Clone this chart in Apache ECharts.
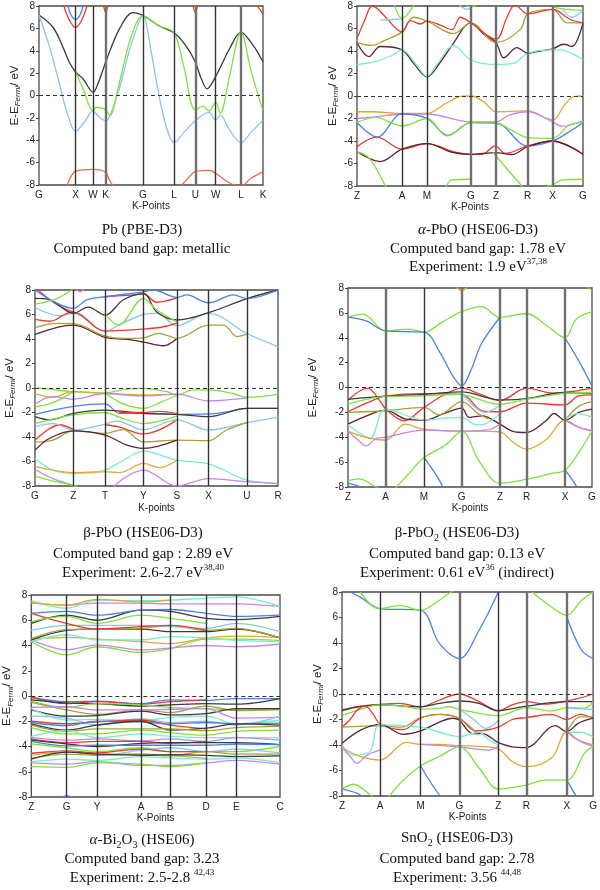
<!DOCTYPE html>
<html><head><meta charset="utf-8">
<script src="https://cdn.jsdelivr.net/npm/echarts@6/dist/echarts.min.js"></script>
<style>html,body{margin:0;padding:0;background:#fff}#c{width:600px;height:890px}</style>
</head><body><div id="c"></div>
<script>
// ---------------- DATA ----------------
const yMin = -8, yMax = 8, yStep = 2;

// Pb (PBE-D3)
const pbK = [0, 36.7, 54, 66.7, 104, 135, 156.3, 176.7, 202, 224];
const pbLabels = ['G','X','W','K','G','L','U','W','L','K'];
const pbBands = [
 ['k',[[0,7.2],[14,6.1],[24,4.3],[30.7,2.9],[36.7,2.1],[44,1.5],[54,0.3],[60,1.3],[66.7,3.0],[80.7,6.0],[94,7.4],[104,7.15],[120.7,6.2],[135,5.6],[147.3,4.4],[156.3,3.0],[162.3,1.5],[168,0.6],[176.7,1.7],[190.7,4.2],[202,5.65],[214,4.5],[224,3.0]]],
 ['lb',[[0,7.2],[10,4.5],[20,1.2],[28,-1.5],[36.7,-3.2],[46,-2.3],[54,-1.4],[60,-1.9],[66.7,-2.25],[70.7,-1.85],[80,0.5],[92,4.5],[104,7.1],[112,4.0],[120,0],[128,-3.0],[135,-4.2],[145,-3.3],[156.3,-2.25],[170,-1.5],[176.7,-2.2],[181.3,-1.75],[190,-3.0],[202,-4.2],[212,-3.3],[224,-2.2]]],
 ['g',[[36.7,2.1],[44,0.6],[54,-1.35],[57.3,-1.05],[62,-1.1],[66.7,-1.3],[70.7,-1.8],[80,1.0],[92,5.2],[104,7.1],[120.7,6.2],[135,5.6],[145,2.5],[156.3,-1.3],[164,-0.95],[170,-1.4],[176.7,-0.6],[181.3,-1.6],[190,1.5],[202,5.65],[212,2.2],[224,-1.35]]],
 ['b',[[28,8.3],[32,7.2],[36.7,6.8],[41,7.2],[45,8.3]]],
 ['r',[[24,8.3],[30,6.8],[36.7,6.1],[43,6.8],[49,8.3]]],
 ['r',[[64,8.3],[66.7,7.4],[69.3,8.3]]],
 ['r',[[153.6,8.3],[156.3,7.4],[159,8.3]]],
 ['r',[[216,8.3],[224,7.3]]],
 ['sa',[[27.3,-8.3],[31,-7.4],[36.7,-6.75],[54,-6.6],[66.7,-6.85],[70,-7.5],[76,-8.3]]],
 ['sa',[[140,-8.3],[150,-7.3],[156.3,-6.8],[170,-6.7],[176.7,-6.95],[190,-7.8],[202,-8.1],[212,-7.4],[224,-6.8]]]
];

// alpha-PbO (HSE06-D3)
const apK = [0, 45, 70, 114, 139, 170.7, 195.7, 226];
const apLabels = ['Z','A','M','G','Z','R','X','G'];
const apBands = [
 ['br',[[0,4.75],[11.7,3.5],[23.3,4.4],[45,4.1],[56.7,2.9],[70,1.7],[83.3,3.0],[95,4.5],[114,6.5],[126.7,5.5],[139,4.75],[146.7,3.4],[160,4.3],[170.7,3.8],[183.3,4.0],[195.7,4.2],[206.7,4.6],[215,4.4],[226,6.5]]],
 ['c',[[0,2.8],[18.3,3.05],[35,3.6],[45,4.1],[58,2.95],[70,1.75],[80,2.8],[96.7,4.5],[114,3.2],[139,2.8],[156.7,2.9],[170.7,3.8],[195.7,4.1],[203.3,4.1],[226,3.2]]],
 ['o',[[0,4.75],[15,4.5],[26.7,4.9],[45,5.7],[56.7,7.0],[70,6.65],[96.7,5.55],[114,6.5],[139,4.75],[163.3,5.9],[170.7,7.3],[195.7,7.7],[210,6.5],[226,6.5]]],
 ['r',[[0,5.1],[8,6.8],[15,8.0],[20,7.8],[26.7,7.2],[45,5.7],[53.3,6.7],[63.3,6.4],[70,6.65],[83.3,6.3],[95,5.9],[103.3,7.0],[114,6.5],[139,5.05],[150,7.0],[158,8.1],[170.7,7.3],[195.7,7.7],[213.3,6.8],[226,6.5]]],
 ['lb',[[23.3,6.75],[35,6.8],[45,6.85]]],
 ['lb',[[100,8.3],[110,7.7],[114,7.8]]],
 ['lb',[[205,7.8],[215,7.0],[226,7.6]]],
 ['g',[[36.7,8.3],[45,6.9],[58.3,8.3]]],
 ['g',[[106,8.3],[114,7.9],[122,8.3]]],
 ['g',[[195.7,7.9],[210,7.7],[226,7.6]]],
 ['y',[[0,-1.4],[15,-1.4],[45,-1.55],[70,-1.55],[90,-0.6],[105,-0.02],[114,0],[126.7,-0.5],[139,-1.4],[170.7,-1.33],[195.7,-2.13],[206.7,-0.9],[216.7,-0.05],[226,0]]],
 ['p',[[0,-2.0],[18.3,-1.85],[45,-1.6],[70,-1.6],[114,-2.3],[139,-2.3],[152,-1.7],[170.7,-1.4],[195.7,-2.3],[205,-2.7],[226,-2.2]]],
 ['b',[[0,-2.35],[20,-3.65],[41.6,-1.65],[45,-1.6],[70,-2.0],[91,-3.5],[114,-2.37],[139,-2.4],[170.7,-4.44],[195.7,-4.0],[210,-3.3],[226,-2.37]]],
 ['g',[[0,-2.35],[18.3,-1.9],[45,-2.66],[70,-2.0],[90,-3.55],[114,-2.37],[139,-2.43],[158,-3.2],[170.7,-3.7],[195.7,-3.76],[212,-2.6],[226,-2.37]]],
 ['r',[[0,-4.5],[20,-3.65],[45,-4.73],[70,-4.23],[98,-5.0],[114,-5.18],[125,-5.18],[138.3,-4.44],[148.3,-5.1],[170.7,-4.44],[195.7,-4.0],[226,-5.18]]],
 ['br',[[0,-4.94],[23.3,-5.83],[45,-4.73],[70,-4.23],[95,-5.0],[114,-5.18],[139,-5.03],[155,-5.2],[170.7,-4.5],[195.7,-4.0],[226,-5.18]]],
 ['g',[[0,-4.94],[12,-5.5],[30,-8.3]]],
 ['g',[[88,-8.3],[95,-7.45],[114,-7.4]]],
 ['g',[[136,-5.0],[155,-7.0],[168,-8.3]]],
 ['g',[[180,-8.3],[195.7,-7.9],[205,-7.45],[226,-7.4]]]
];

// beta-PbO (HSE06-D3)
const bpK = [0, 38.3, 70, 108.3, 141.7, 173.3, 211.7, 242.7];
const bpLabels = ['G','Z','T','Y','S','X','U','R'];
const bpBands = [
 ['br',[[0,4.37],[38.3,5.14],[70,4.13],[91.7,3.97],[108.3,3.75],[128.3,3.45],[141.7,4.05]]],
 ['o',[[0,4.92],[21.7,5.27],[38.3,5.25],[70,4.24],[88.3,4.05],[108.3,4.1],[123.3,4.46],[131.7,4.3],[141.7,4.05],[173.3,5.14],[188.3,5.14],[201.7,4.2],[211.7,4.4]]],
 ['lb',[[0,6.55],[25,5.9],[38.3,6.1],[70,4.65],[86.7,5.27],[108.3,6.0],[121.7,6.1],[141.7,5.1],[173.3,6.1],[211.7,4.45],[242.7,3.37]]],
 ['r',[[0,5.6],[15,5.45],[31.7,6.1],[38.3,6.2],[70,4.65],[91.7,4.73],[108.3,4.8],[128.3,5.0],[141.7,5.3]]],
 ['r',[[0,8.2],[18.3,7.0],[31.7,6.4],[38.3,6.2]]],
 ['r',[[70,7.45],[98.3,7.6],[108.3,7.7],[121.7,7.0],[141.7,7.35]]],
 ['k',[[0,7.32],[15,7.2],[38.3,6.1],[53.3,6.6],[70,5.95],[88.3,7.2],[108.3,7.7],[121.7,6.2],[141.7,5.55],[173.3,6.15],[211.7,7.3],[242.7,8.0]]],
 ['b',[[0,8.0],[38.3,6.5],[51.7,7.2],[70,7.45],[108.3,7.85],[118.3,8.0],[141.7,7.4],[151.7,7.6],[173.3,6.96],[198.3,7.6],[211.7,7.3],[242.7,8.0]]],
 ['g',[[0,6.85],[21.7,7.3],[38.3,8.1]]],
 ['g',[[70,6.1],[83.3,5.14],[108.3,7.3],[121.7,6.36],[141.7,5.4]]],
 ['p',[[40,8.2],[45,7.85],[50,8.2]]],
 ['g',[[0,0],[14.7,-0.1],[38.3,-0.3],[70,-0.4],[91.3,-0.1],[108.3,-0.03],[131.3,-0.3],[141.7,-0.57],[158,-0.16],[173.3,-0.16],[198,-0.45],[211.7,-0.76],[242.7,-0.52]]],
 ['y',[[0,-0.45],[18,-0.75],[38.3,-0.3],[70,-0.44],[108.3,-0.57],[141.7,-0.5]]],
 ['p',[[0,-1.3],[18,-0.7],[38.3,-0.9],[70,-0.45],[108.3,-0.65],[141.7,-0.5],[173.3,-1.05],[211.7,-0.8]]],
 ['g',[[0,-1.55],[18,-1.2],[38.3,-0.3]]],
 ['g',[[70,-0.4],[88,-1.3],[108.3,-1.66],[124.7,-1.2],[141.7,-0.57]]],
 ['b',[[0,-2.15],[38.3,-1.5],[70,-1.3],[84.7,-2.07],[108.3,-2.07],[141.7,-2.15],[173.3,-2.12],[191.3,-1.95],[211.7,-1.66],[242.7,-1.66]]],
 ['k',[[0,-2.34],[14.7,-2.6],[38.3,-2.07],[70,-1.8],[108.3,-2.07],[141.7,-2.15],[173.3,-2.34],[211.7,-1.66],[242.7,-1.66]]],
 ['r',[[0,-4.25],[24.7,-3.0],[38.3,-3.4]]],
 ['r',[[70,-3.0],[84.7,-3.2],[108.3,-3.75],[124.7,-3.4],[141.7,-2.6]]],
 ['r',[[84,-2.0],[108.3,-2.0],[124.7,-1.9],[141.7,-2.1]]],
 ['lb',[[0,-3.16],[18,-2.9],[38.3,-3.43],[70,-2.95],[81.3,-2.7],[108.3,-3.4],[141.7,-2.6],[173.3,-3.43],[211.7,-2.83],[242.7,-2.4]]],
 ['o',[[0,-4.4],[18,-4.25],[38.3,-3.5],[70,-3.7],[88,-3.4],[108.3,-4.4],[141.7,-4.25],[173.3,-4.3],[191.3,-3.43],[211.7,-2.83]]],
 ['g',[[0,-2.9],[38.3,-2.2],[70,-2.0],[84.7,-2.4],[108.3,-2.9],[141.7,-2.3]]],
 ['br',[[0,-5.07],[14.7,-4.1],[38.3,-3.5],[70,-3.84],[91.3,-4.65],[108.3,-4.93],[141.7,-4.25]]],
 ['c',[[0,-5.75],[18,-6.7],[38.3,-6.98],[70,-6.7],[88,-5.9],[108.3,-5.15],[141.7,-5.89],[173.3,-6.2],[211.7,-7.52],[242.7,-7.8]]],
 ['y',[[0,-6.4],[38.3,-6.9],[70,-6.85],[84.7,-6.9],[108.3,-6.16],[124.7,-6.5],[141.7,-5.9]]],
 ['p',[[0,-6.65],[18,-7.4],[38.3,-7.95],[50,-8.3]]],
 ['p',[[76,-8.3],[90,-7.3],[108.3,-6.7],[141.7,-8.0],[173.3,-7.4],[211.7,-7.65],[242.7,-7.8]]],
 ['g',[[0,-7.2],[18,-7.6],[38.3,-7.95],[45,-8.3]]]
];

// beta-PbO2 (HSE06-D3)
const b2K = [0, 37.7, 76, 113.7, 152, 178.7, 217, 244];
const b2Labels = ['Z','A','M','G','Z','R','X','G'];
const b2Bands = [
 ['g',[[0,5.65],[15,5.9],[37.7,4.55],[61.7,4.7],[76,4.45],[95,5.3],[113.7,6.1],[133.3,6.5],[152,5.65],[178.7,5.95],[198.3,5.0],[217,4.0],[228.3,5.5],[244,6.1]]],
 ['b',[[0,5.65],[18.3,5.35],[37.7,4.55],[76,4.45],[92,2.8],[105,0.9],[113.7,0.13],[123,1.4],[133.3,3.5],[152,5.65]]],
 ['b',[[217,4.0],[231.7,2.0],[244,0.13]]],
 ['y',[[105,8.3],[113.7,7.8],[122,8.3]]],
 ['y',[[236,8.3],[244,7.8]]],
 ['r',[[0,-1.0],[19.4,-0.05],[33,-1.2],[37.7,-1.74],[56,-2.68],[76,-1.6],[96,-0.6],[113.7,-0.05],[131,-0.5],[152,-1.05],[178.7,-0.05],[205,-0.45],[217,-0.4],[244,-0.05]]],
 ['r',[[0,-1.95],[20,-1.2],[37.7,-0.7],[76,-0.5],[113.7,-0.55],[135,-1.9],[152,-1.95],[178.7,-1.25],[217,-1.4],[230,-0.7],[244,-0.6]]],
 ['k',[[0,-0.95],[37.7,-0.7],[76,-0.55],[113.7,-0.35],[152,-1.0],[178.7,-0.9],[217,-0.4],[244,-0.45]]],
 ['g',[[0,-1.34],[37.7,-0.72],[76,-0.67],[110,-0.55],[152,-1.34],[178.7,-0.94],[205,-0.6],[217,-0.45],[244,-0.4]]],
 ['br',[[0,-2.95],[18,-2.3],[37.7,-1.82],[58,-2.55],[76,-2.63],[94.4,-2.15],[113.7,-1.66],[121,-2.4],[134.4,-2.28],[152,-2.95],[164,-3.5],[178.7,-3.62],[198,-2.68],[206,-2.09],[217,-2.63],[231,-2.0],[244,-1.74]]],
 ['o',[[0,-2.0],[37.7,-1.87],[76,-1.6],[91,-2.2],[113.7,-1.13],[130,-2.1],[140,-2.5]]],
 ['o',[[217,-2.63],[231,-1.5],[244,-1.13]]],
 ['c',[[0,-3.0],[12,-3.7],[22,-4.1],[37.7,-1.75],[76,-2.6],[100,-2.45],[113.7,-2.4],[128,-3.0],[138,-2.9],[152,-2.1]]],
 ['c',[[217,-2.55],[230,-2.1],[244,-2.4]]],
 ['lb',[[113.7,-0.45],[126,-1.5],[137,-2.0],[152,-1.4]]],
 ['y',[[0,-3.5],[18,-4.0],[37.7,-4.24],[57,-2.95],[76,-3.35],[113.7,-3.5],[131,-3.5],[152,-3.56],[165,-4.4],[178.7,-4.96],[198,-4.2],[217,-2.63],[231,-3.2],[244,-3.5]]],
 ['p',[[0,-3.5],[11,-4.3],[18,-4.7],[28,-4.1],[37.7,-4.0],[76,-3.42],[113.7,-3.5],[140,-3.4],[152,-2.95]]],
 ['p',[[217,-2.6],[231,-3.2],[244,-3.45]]],
 ['g',[[0,-7.5],[11,-7.35],[28,-8.0],[35,-8.3]]],
 ['g',[[45,-8.3],[60,-7.0],[76,-5.63],[98,-4.6],[113.7,-3.5],[131,-5.9],[152,-7.7],[178.7,-7.37],[204,-6.9],[217,-6.65],[231,-5.2],[244,-3.5]]],
 ['b',[[0,-7.7],[10,-7.9],[18,-8.3]]],
 ['b',[[76,-5.63],[88,-7.0],[97,-8.3]]],
 ['b',[[217,-6.65],[225,-7.5],[231,-8.3]]]
];

// alpha-Bi2O3 (HSE06): energies at each k-point Z,G,Y,A,B,D,E,C
const biK = [0, 35.7, 66.3, 110.7, 140, 176.3, 206.7, 250.7];
const biLabels = ['Z','G','Y','A','B','D','E','C'];
const biBands = [
 ['g',[4.3,3.25,3.9,3.45,3.75,4.5,4.5,4.4]],
 ['p',[4.45,3.65,4.05,3.65,3.8,4.0,3.9,4.1]],
 ['y',[4.5,4.65,4.5,4.3,4.15,4.6,4.75,4.65]],
 ['c',[4.3,4.85,4.45,4.45,4.7,4.6,4.4,4.3]],
 ['k',[4.45,5.2,5.3,5.3,5.1,5.1,5.3,4.6]],
 ['o',[4.55,5.25,5.3,5.35,5.6,5.2,5.35,4.6]],
 ['lb',[5.2,5.6,5.6,5.6,5.5,5.35,5.75,5.1]],
 ['r',[6.55,5.75,5.3,5.5,5.6,5.2,null,null]],
 ['k',[5.75,6.4,6.0,6.8,6.7,6.15,6.05,6.3]],
 ['g',[5.9,6.3,5.75,6.4,6.15,5.75,null,null]],
 ['b',[6.55,6.7,6.4,6.8,6.85,6.55,6.3,6.4]],
 ['p',[7.35,7.2,7.35,7.35,7.3,7.3,7.3,7.1]],
 ['c',[7.55,6.95,7.6,7.55,7.6,7.75,7.85,7.1]],
 ['y',[7.4,7.2,7.65,7.45,7.6,null,null,null]],
 ['b',[-0.1,-0.45,-0.4,-0.6,-0.3,-0.35,-0.2,-0.2]],
 ['r',[-0.1,-0.6,-0.45,-0.65,-0.45,-0.3,null,null]],
 ['k',[-0.3,-0.55,-0.6,-0.8,-0.7,-0.6,-0.65,-0.2]],
 ['g',[-0.4,-0.9,-0.6,-0.7,-0.9,-1.0,-1.1,-1.1]],
 ['o',[-0.5,-1.1,-1.45,-1.1,-1.3,-0.8,-1.15,-1.05]],
 ['k',[-1.1,-1.6,-1.55,-1.2,-1.5,-1.4,-1.0,-1.0]],
 ['p',[-0.9,-0.85,-1.1,-1.1,-1.05,-1.0,-1.75,-1.7]],
 ['c',[-1.0,-1.9,-1.85,-1.95,-1.7,-1.6,-2.2,-1.9]],
 ['lb',[-1.6,-1.75,-2.3,-1.8,-2.1,-2.0,-2.3,-1.6]],
 ['r',[-2.0,-2.2,-2.05,-1.9,-2.3,-2.6,null,null]],
 ['b',[-2.1,-2.35,-2.0,-2.05,-2.2,-2.1,-2.2,-2.15]],
 ['k',[-2.2,-2.7,-2.3,-2.0,-2.7,-2.55,-2.2,-2.3]],
 ['o',[-2.3,-2.8,-2.6,-2.6,-2.6,-2.75,-2.5,-2.4]],
 ['g',[-2.5,-3.0,-3.0,-2.7,-2.9,-3.1,-2.8,-2.7]],
 ['c',[-3.2,-2.75,-3.3,-3.0,-3.2,-3.3,-3.3,-3.3]],
 ['p',[-3.3,-3.5,-3.4,-3.55,-3.4,-3.6,-3.3,-3.5]],
 ['r',[-3.4,-3.7,-3.6,-3.6,-3.75,-3.6,null,null]],
 ['k',[-3.5,-3.8,-4.0,-3.75,-3.7,-3.7,-3.7,-3.85]],
 ['b',[-3.6,-3.95,-3.9,-3.9,-3.9,-3.9,-3.8,-3.85]],
 ['g',[-3.8,-4.1,-4.4,-4.1,-4.4,-4.4,-4.4,-4.0]],
 ['lb',[-4.5,-4.4,-4.7,-4.3,-4.1,-4.4,-4.2,-4.5]],
 ['r',[-4.55,-4.35,-4.5,-4.2,-4.4,-4.4,null,null]],
 ['y',[-4.7,-4.4,-4.6,-4.6,-4.7,-4.95,null,null]],
 ['o',[-4.95,-4.6,-4.7,-4.6,-4.75,-4.4,-4.6,-4.6]],
 ['k',[-5.0,-4.45,-4.6,-4.7,-4.65,-4.7,-4.8,-4.75]],
 ['c',[-5.2,-5.0,-5.1,-4.8,-4.9,-5.0,-4.9,-5.3]],
 ['p',[-5.3,-5.4,-5.2,-5.5,-5.5,-5.3,-5.1,-5.4]],
 ['g',[-5.6,-5.65,-5.3,-5.4,-5.6,-5.3,null,null]],
 ['b',[[26,-8.3],[35.7,-7.9],[45,-8.3]]]
];

// SnO2 (HSE06-D3)
const snK = [0, 38.3, 79.3, 118.3, 157.7, 186, 226.7, 253.3];
const snLabels = ['Z','A','M','G','Z','R','X','G'];
const snBands = [
 ['b',[[8.3,8.0],[18.3,7.6],[38.3,6.7],[79.3,6.56],[98.3,3.95],[118.3,2.78],[138.3,5.0],[157.7,8.0]]],
 ['b',[[226.7,6.04],[241.7,3.43],[253.3,2.78]]],
 ['g',[[18.3,8.0],[30,6.95],[38.3,6.7],[58.3,6.95],[79.3,6.56],[98.3,7.35],[110,8.0],[118,8.3]]],
 ['g',[[191.7,8.0],[211.7,6.8],[226.7,6.17],[241.7,7.35],[253.3,8.0]]],
 ['r',[[0,-1.33],[15,-1.0],[38.3,-0.81],[58.3,-0.73],[79.3,-1.0],[98.3,-0.47],[118.3,0],[138.3,-0.6],[157.7,-1.33],[171.6,-0.86],[186,-0.6],[205,-0.8],[226.7,-0.55],[238.3,-0.35],[253.3,0]]],
 ['k',[[0,-1.25],[38.3,-0.86],[79.3,-1.0],[98.3,-0.73],[118.3,-0.55],[138.3,-0.73],[157.7,-1.3],[186,-0.95],[226.7,-0.6],[253.3,-0.6]]],
 ['g',[[0,-1.7],[18.3,-1.2],[38.3,-0.86],[65,-0.99],[79.3,-1.18],[98.3,-1.12],[108.3,-1.0],[118.3,-1.2],[157.7,-1.7],[186,-1.07],[211.6,-1.33],[226.7,-1.07],[245,-1.1],[253.3,-0.6]]],
 ['lb',[[118.3,-1.2],[133,-2.0],[145,-2.7],[157.7,-2.1]]],
 ['lb',[[226.7,-1.1],[253.3,-1.2]]],
 ['r',[[0,-2.6],[8.3,-2.0],[15,-1.3],[23.3,-0.95],[31.6,-1.6],[38.3,-2.35],[61.6,-2.8],[79.3,-1.9],[98.3,-1.6],[118.3,-1.9],[135,-2.9],[157.7,-2.6],[171.6,-2.0],[186,-1.85],[211.6,-1.6],[226.7,-2.0],[240,-1.6],[253.3,-1.9]]],
 ['o',[[0,-2.6],[38.3,-2.5],[60,-2.6],[79.3,-1.85],[98.3,-1.6],[118.3,-1.9],[136,-3.1]]],
 ['o',[[226.7,-3.0],[240,-1.8],[253.3,-1.8]]],
 ['br',[[0,-3.87],[18.3,-2.85],[38.3,-2.38],[61.6,-3.16],[79.3,-2.9],[98.3,-2.2],[111.6,-1.9],[118.3,-2.04],[131.6,-3.1],[141.6,-3.1],[157.7,-3.82],[171.6,-4.14],[186,-4.2],[215,-2.48],[226.7,-2.95],[238.3,-2.3],[253.3,-1.9]]],
 ['c',[[0,-4.0],[11.6,-4.8],[28.3,-4.5],[38.3,-2.4],[79.3,-2.6],[98.3,-3.0],[118.3,-3.35],[138.3,-3.0],[148.3,-3.6],[157.7,-4.0]]],
 ['c',[[226.7,-3.0],[240,-3.0],[253.3,-3.35]]],
 ['y',[[0,-4.2],[18.3,-4.9],[38.3,-5.18],[65,-3.8],[79.3,-3.95],[98.3,-3.95],[118.3,-4.05],[138.3,-4.1],[157.7,-4.3],[171.6,-5.3],[186,-5.7],[211.6,-5.0],[226.7,-2.95],[238.3,-3.6],[253.3,-4.0]]],
 ['p',[[0,-4.2],[8.3,-4.9],[15,-5.44],[25,-4.8],[38.3,-4.4]]],
 ['p',[[79.3,-3.95],[118.3,-4.15],[138.3,-4.35],[148,-4.4],[157.7,-4.1]]],
 ['p',[[226.7,-3.0],[240,-3.7],[253.3,-4.1]]],
 ['g',[[0,-7.45],[11.6,-7.08],[28.3,-7.9],[35,-8.3]]],
 ['g',[[45,-8.3],[60,-6.9],[79.3,-5.65],[98.3,-4.9],[118.3,-4.13],[138.3,-5.8],[157.7,-7.45],[186,-7.14],[205,-6.75],[226.7,-6.75],[245,-4.6],[253.3,-4.13]]],
 ['b',[[0,-7.45],[18.3,-7.9],[22,-8.3]]],
 ['b',[[79.3,-5.65],[90,-7.0],[101.6,-8.3]]],
 ['b',[[226.7,-6.75],[238.3,-8.3]]]
];

// Captions (text)
const captionPb = ['{n|Pb (PBE-D3)}', '{n|Computed band gap: metallic}'];
const captionAPbO = ['{i|α}{n|-PbO (HSE06-D3)}', '{n|Computed band gap: 1.78 eV}', '{n|Experiment: 1.9 eV}{sup|37,38}'];
const captionBPbO = ['{n|β-PbO (HSE06-D3)}', '{n|Computed band gap : 2.89 eV}', '{n|Experiment: 2.6-2.7 eV}{sup|38,40}'];
const captionBPbO2 = ['{n|β-PbO}{sub|2}{n| (HSE06-D3)}', '{n|Computed band gap: 0.13 eV}', '{n|Experiment: 0.61 eV}{sup|36}{n| (indirect)}'];
const captionBi = ['{i|α}{n|-Bi}{sub|2}{n|O}{sub|3}{n| (HSE06)}', '{n|Computed band gap: 3.23}', '{n|Experiment: 2.5-2.8 }{sup|42,43}'];
const captionSn = ['{n|SnO}{sub|2}{n| (HSE06-D3)}', '{n|Computed band gap: 2.78}', '{n|Experiment: 3.56 }{sup|44,48}'];

// ---------------- STYLE / LAYOUT ----------------
const COLORS = {k:'#3b3b3b', lb:'#88c6ee', g:'#7fe23c', r:'#ee3a2c', sa:'#f2664a', b:'#4b7ff0',
  p:'#c487ea', o:'#a6a23a', y:'#e0a834', br:'#5c2431', c:'#74f0c6'};

// indices (into the k-point list) of the vertical lines drawn as thick grey
const panels = [
 {k:pbK, lab:pbLabels, bands:pbBands, grid:{left:39,top:6,width:224,height:179}, xName:'K-Points', yGap:11, xGap:14, thick:[3,6,8], cap:captionPb, cx:142, cy:[230,249]},
 {k:apK, lab:apLabels, bands:apBands, grid:{left:357,top:6,width:226,height:180}, xName:'K-Points', yGap:15, xGap:16, thick:[3,4,5,6], cap:captionAPbO, cx:478, cy:[230,249,267]},
 {k:bpK, lab:bpLabels, bands:bpBands, grid:{left:35,top:290,width:243,height:196}, xName:'K-points', yGap:18, xGap:17, thick:[], cap:captionBPbO, cx:143, cy:[533,554,573]},
 {k:b2K, lab:b2Labels, bands:b2Bands, grid:{left:348,top:288,width:244,height:199}, xName:'K-points', yGap:28, xGap:16, thick:[1,3,4,5,6], cap:captionBPbO2, cx:457, cy:[533,554,573]},
 {k:biK, lab:biLabels, bands:biBands, grid:{left:29,top:595,width:251,height:202}, xName:'K-Points', yGap:16, xGap:15, thick:[], cap:captionBi, cx:142, cy:[840,859,878]},
 {k:snK, lab:snLabels, bands:snBands, grid:{left:342,top:592,width:253,height:204}, xName:'K-Points', yGap:16, xGap:15, thick:[3,5,6], cap:captionSn, cx:457, cy:[838,859,878]}
];

const SANS = 'Liberation Sans, Arial, sans-serif';
const SERIF = 'Liberation Serif, Times New Roman, serif';
const CAP_RICH = {
  n:{fontFamily:SERIF, fontSize:15, lineHeight:20, fill:'#111'},
  i:{fontFamily:SERIF, fontSize:15, fontStyle:'italic', lineHeight:20, fill:'#111'},
  sup:{fontFamily:SERIF, fontSize:9, lineHeight:11, verticalAlign:'top', fill:'#111'},
  sub:{fontFamily:SERIF, fontSize:10, lineHeight:10, verticalAlign:'bottom', fill:'#111'}
};

function toPts(data, kpos){
  if (typeof data[0] === 'number' || data[0] === null) return data.map((v,j)=>[kpos[j], v]);
  return data;
}

const grids=[], xAxes=[], yAxes=[], series=[], graphics=[];
panels.forEach((P, i) => {
  grids.push(Object.assign({show:true, borderColor:'#4a4a4a', borderWidth:1.3, backgroundColor:'transparent'}, P.grid));
  const kpos = P.k, labs = P.lab;
  xAxes.push({gridIndex:i, type:'value', min:kpos[0], max:kpos[kpos.length-1],
    name:P.xName, nameLocation:'middle', nameGap:P.xGap,
    nameTextStyle:{fontFamily:SANS, fontSize:10, color:'#222'},
    axisLine:{show:false}, axisTick:{show:false}, splitLine:{show:false},
    axisLabel:{customValues:kpos, margin:5, fontFamily:SANS, fontSize:10, color:'#222',
      formatter:(v)=>{const j=kpos.findIndex(x=>Math.abs(x-v)<1e-6); return j>=0?labs[j]:'';}}
  });
  yAxes.push({gridIndex:i, type:'value', min:yMin, max:yMax, interval:yStep,
    name:'{a|E-E}{s|Fermi}{a|/ eV}', nameLocation:'middle', nameGap:P.yGap,
    nameTextStyle:{rich:{
      a:{fontFamily:SANS, fontSize:11.5, color:'#222', lineHeight:15},
      s:{fontFamily:SANS, fontSize:8, fontStyle:'italic', color:'#222', lineHeight:9, verticalAlign:'bottom'}}},
    axisLine:{show:false}, axisTick:{show:true, length:3, lineStyle:{color:'#444'}}, splitLine:{show:false},
    axisLabel:{margin:4, fontFamily:SANS, fontSize:10, color:'#222'}
  });
  const inner = kpos.slice(1,-1).map((v,j)=>{
    const thick = P.thick.indexOf(j+1) >= 0;
    return {xAxis:v, lineStyle:{color: thick ? '#707070' : '#333', width: thick ? 2.4 : 1.4, type:'solid'}};
  });
  series.push({type:'line', xAxisIndex:i, yAxisIndex:i, data:[[kpos[0], -100]], symbol:'none', silent:true, z:1,
    lineStyle:{width:0},
    markLine:{silent:true, symbol:'none', label:{show:false}, animation:false,
      data:[...inner, {yAxis:0, lineStyle:{color:'#333', width:1, type:[4,3]}}]}
  });
  P.bands.forEach(([ck, data]) => {
    series.push({type:'line', xAxisIndex:i, yAxisIndex:i, data:toPts(data, kpos),
      symbol:'none', showSymbol:false, smooth:0.35, clip:true, silent:true, z:2,
      connectNulls:false,
      lineStyle:{color:COLORS[ck], width:1.3}});
  });
  P.cap.forEach((t, j) => {
    graphics.push({type:'text', x:P.cx, y:P.cy[j], silent:true,
      style:{text:t, rich:CAP_RICH, align:'center', verticalAlign:'middle', fill:'#111', fontFamily:SERIF, fontSize:15}});
  });
});

const chart = echarts.init(document.getElementById('c'), null, {renderer:'canvas'});
chart.setOption({animation:false, backgroundColor:'#fff', grid:grids, xAxis:xAxes, yAxis:yAxes, series:series, graphic:graphics});
</script></body></html>
